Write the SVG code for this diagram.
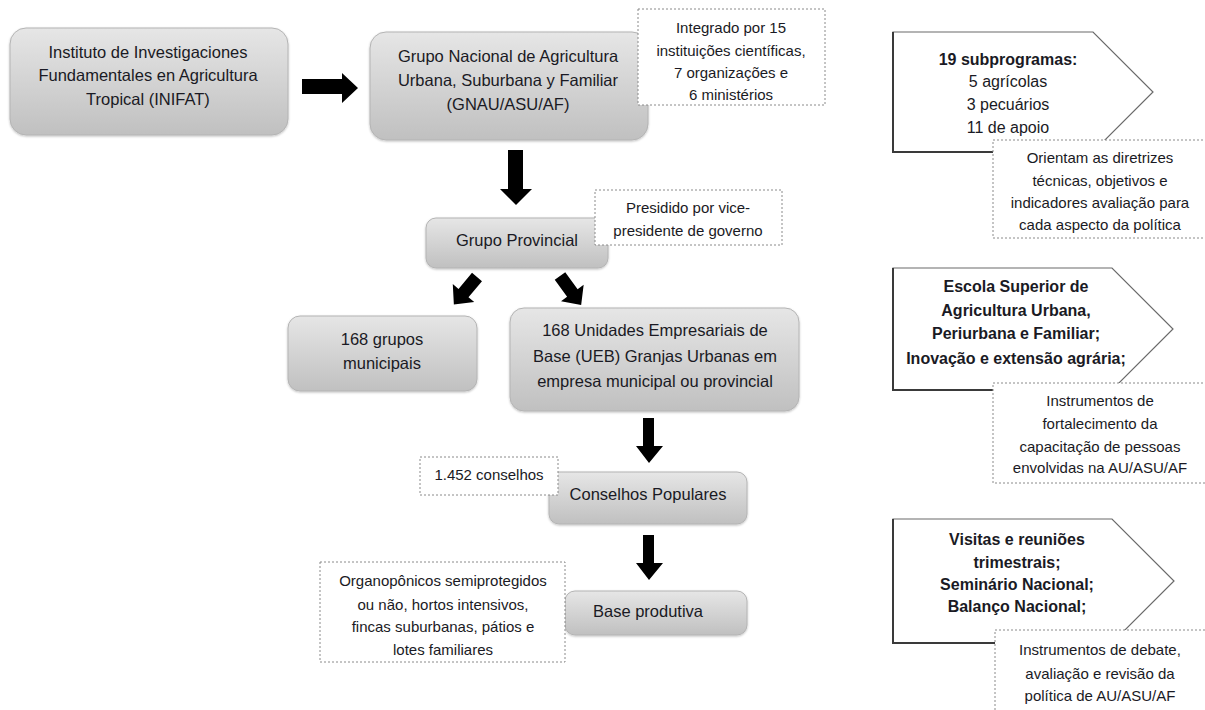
<svg xmlns="http://www.w3.org/2000/svg" width="1205" height="710" viewBox="0 0 1205 710">
<defs>
<linearGradient id="g" x1="0" y1="0" x2="0" y2="1">
<stop offset="0" stop-color="#e6e6e6"/>
<stop offset="1" stop-color="#c0c0c0"/>
</linearGradient>
<filter id="sh" x="-5%" y="-5%" width="110%" height="115%">
<feDropShadow dx="0" dy="1" stdDeviation="1" flood-color="#000" flood-opacity="0.25"/>
</filter>
<style>
.box{fill:url(#g);stroke:#b4b4b4;stroke-width:1;filter:url(#sh)}
.dot{fill:#fff;stroke:#8a8a8a;stroke-width:1;stroke-dasharray:2,2}
.pent{fill:#fff;stroke:#6a6a6a;stroke-width:1.2}
.pedge{fill:none;stroke:#3a3a3a;stroke-width:2}
.arr{fill:#000}
text{font-family:"Liberation Sans",Arial,sans-serif;fill:#1a1a24;text-anchor:middle;dominant-baseline:central}
.m{font-size:16.5px}
.d{font-size:15px}
.b{font-size:16px;font-weight:bold}
.r{font-size:16px}
</style>
</defs>
<rect width="1205" height="710" fill="#fff"/>

<g id="connectors">
<polygon class="arr" points="302,79 342,79 342,73 358,88 342,103 342,94 302,94"/>
<polygon class="arr" points="508,150 523,150 523,189 532,189 516,205 500,189 508,189"/>
<polygon class="arr" transform="translate(477,277) rotate(40)" points="-6.5,0 6.5,0 6.5,21 14,21 0,36 -14,21 -6.5,21"/>
<polygon class="arr" transform="translate(560,276) rotate(-36)" points="-6.5,0 6.5,0 6.5,21 14,21 0,36 -14,21 -6.5,21"/>
<polygon class="arr" points="643,418 654,418 654,446 663,446 649,463 636,446 643,446"/>
<polygon class="arr" points="643,535 654,535 654,563 663,563 649,580 636,563 643,563"/>
</g>

<g id="inifat">
<rect class="box" x="10" y="28" width="278" height="107" rx="16"/>
<text class="m" x="148" y="52">Instituto de Investigaciones</text>
<text class="m" x="148" y="75">Fundamentales en Agricultura</text>
<text class="m" x="148" y="99">Tropical (INIFAT)</text>
</g>

<g id="gnau">
<rect class="box" x="370" y="32" width="278" height="108" rx="16"/>
<text class="m" x="508" y="56">Grupo Nacional de Agricultura</text>
<text class="m" x="508" y="80">Urbana, Suburbana y Familiar</text>
<text class="m" x="508" y="104">(GNAU/ASU/AF)</text>
</g>

<g id="note-integrado">
<rect class="dot" x="638" y="9" width="187" height="96"/>
<text class="d" x="731" y="27">Integrado por 15</text>
<text class="d" x="731" y="50">instituições científicas,</text>
<text class="d" x="731" y="72">7 organizações e</text>
<text class="d" x="731" y="94">6 ministérios</text>
</g>

<g id="provincial">
<rect class="box" x="426" y="218" width="182" height="50" rx="10"/>
<text class="m" x="517" y="240">Grupo Provincial</text>
</g>

<g id="note-presidido">
<rect class="dot" x="595" y="190" width="187" height="55"/>
<text class="d" x="688" y="207">Presidido por vice-</text>
<text class="d" x="688" y="230">presidente de governo</text>
</g>

<g id="municipais">
<rect class="box" x="288" y="316" width="189" height="75" rx="12"/>
<text class="m" x="382" y="339">168 grupos</text>
<text class="m" x="382" y="363">municipais</text>
</g>

<g id="ueb">
<rect class="box" x="510" y="308" width="289" height="103" rx="14"/>
<text class="m" x="655" y="330">168 Unidades Empresariais de</text>
<text class="m" x="655" y="356">Base (UEB) Granjas Urbanas em</text>
<text class="m" x="655" y="381">empresa municipal ou provincial</text>
</g>

<g id="conselhos">
<rect class="box" x="549" y="472" width="198" height="52" rx="10"/>
<text class="m" x="648" y="494">Conselhos Populares</text>
</g>

<g id="note-conselhos">
<rect class="dot" x="420" y="457" width="138" height="38"/>
<text class="d" x="489" y="474">1.452 conselhos</text>
</g>

<g id="base">
<rect class="box" x="565" y="591" width="182" height="44" rx="10"/>
<text class="m" x="648" y="611">Base produtiva</text>
</g>

<g id="note-base">
<rect class="dot" x="320" y="562" width="245" height="100"/>
<text class="d" x="443" y="580">Organopônicos semiprotegidos</text>
<text class="d" x="443" y="604">ou não, hortos intensivos,</text>
<text class="d" x="443" y="626">fincas suburbanas, pátios e</text>
<text class="d" x="443" y="649">lotes familiares</text>
</g>

<g id="subprogramas">
<polygon class="pent" points="893,32 1093,32 1153,92 1093,152 893,152"/>
<polyline class="pedge" points="893,32 893,152 1093,152"/>
<text class="b" x="1008" y="59">19 subprogramas:</text>
<text class="r" x="1008" y="81">5 agrícolas</text>
<text class="r" x="1008" y="104">3 pecuários</text>
<text class="r" x="1008" y="127">11 de apoio</text>
</g>

<g id="note-orientam">
<rect class="dot" x="993" y="140" width="220" height="98"/>
<text class="d" x="1100" y="157">Orientam as diretrizes</text>
<text class="d" x="1100" y="180">técnicas, objetivos e</text>
<text class="d" x="1100" y="202">indicadores avaliação para</text>
<text class="d" x="1100" y="224">cada aspecto da política</text>
</g>

<g id="escola">
<polygon class="pent" points="893,268 1112,268 1173,329 1112,390 893,390"/>
<polyline class="pedge" points="893,268 893,390 1112,390"/>
<text class="b" x="1016" y="286">Escola Superior de</text>
<text class="b" x="1016" y="310">Agricultura Urbana,</text>
<text class="b" x="1016" y="333">Periurbana e Familiar;</text>
<text class="b" x="1016" y="358">Inovação e extensão agrária;</text>
</g>

<g id="note-capacitacao">
<rect class="dot" x="993" y="383" width="220" height="100"/>
<text class="d" x="1100" y="400">Instrumentos de</text>
<text class="d" x="1100" y="423">fortalecimento da</text>
<text class="d" x="1100" y="446">capacitação de pessoas</text>
<text class="d" x="1100" y="467">envolvidas na AU/ASU/AF</text>
</g>

<g id="visitas">
<polygon class="pent" points="893,519 1112,519 1174,581 1112,643 893,643"/>
<polyline class="pedge" points="893,519 893,643 1112,643"/>
<text class="b" x="1017" y="539">Visitas e reuniões</text>
<text class="b" x="1017" y="562">trimestrais;</text>
<text class="b" x="1017" y="584">Seminário Nacional;</text>
<text class="b" x="1017" y="606">Balanço Nacional;</text>
</g>

<g id="note-debate">
<rect class="dot" x="995" y="630" width="220" height="100"/>
<text class="d" x="1100" y="649">Instrumentos de debate,</text>
<text class="d" x="1100" y="673">avaliação e revisão da</text>
<text class="d" x="1100" y="695">política de AU/ASU/AF</text>
</g>
</svg>
